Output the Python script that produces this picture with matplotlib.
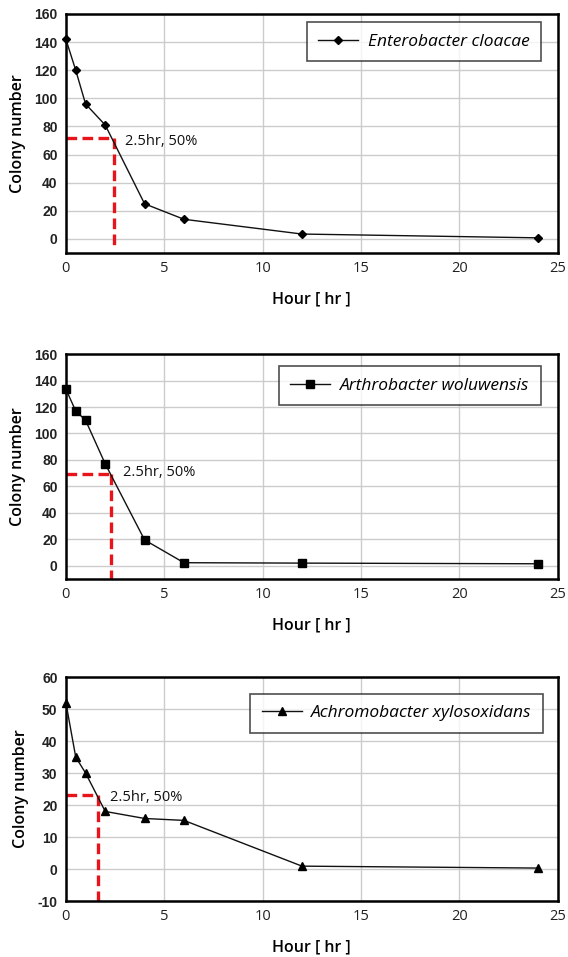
import matplotlib
matplotlib.use("Agg")
import matplotlib.pyplot as plt

plt.rcParams["axes.unicode_minus"] = False

# Données
hours = [0, 0.5, 1, 2, 4, 6, 12, 24]
ent_counts = [142, 120, 96, 81, 25, 14, 3.5, 0.8]
art_counts = [133.5, 117, 110, 77, 19.5, 2.3, 2, 1.5]
ach_counts = [52, 35, 30, 18, 15.8, 15.2, 0.9, 0.3]

species = ["Enterobacter cloacae", "Arthrobacter woluwensis", "Achromobacter xylosoxidans"]
markers = ["D", "s", "^"]
marker_sizes = [4.5, 5.5, 5.5]

# point à 50 % (heure, nombre de colonies)
half_hour = [2.42, 2.3, 1.62]
half_count = [72, 69.6, 23.1]

y_lims = [(-10, 160), (-10, 160), (-10, 60)]
y_steps = [20, 20, 10]

# positions des axes (fraction figure) et des légendes
axes_boxes = [
    [0.116, 0.7356, 0.866, 0.2498],
    [0.116, 0.395, 0.866, 0.235],
    [0.116, 0.0585, 0.866, 0.234],
]
legend_anchor = [(0.965, 0.965), (0.965, 0.945), (0.97, 0.925)]

fig = plt.figure(figsize=(5.68, 9.57), dpi=100)
fig.patch.set_facecolor("white")

series = [ent_counts, art_counts, ach_counts]
for i, box in enumerate(axes_boxes):
    ax = fig.add_axes(box)
    y0, y1 = y_lims[i]
    ax.set_xlim(0, 25)
    ax.set_ylim(y0, y1)
    ax.set_xticks(range(0, 26, 5))
    ax.set_yticks(range(y0 if i == 2 else 0, y1 + 1, y_steps[i]))
    ax.grid(True, color="#cccccc", linewidth=1.0)
    ax.set_axisbelow(True)
    for sp in ax.spines.values():
        sp.set_linewidth(1.8)
        sp.set_color("black")
    ax.tick_params(length=0, pad=6)
    for lab in ax.get_yticklabels():
        lab.set_fontfamily("Liberation Sans")
        lab.set_fontweight("bold")
        lab.set_fontsize(10)
        lab.set_color("#222222")
    for lab in ax.get_xticklabels():
        lab.set_fontfamily("Open Sans")
        lab.set_fontsize(10.5)
        lab.set_color("#222222")

    # repère 50 %
    ax.plot([0, half_hour[i]], [half_count[i], half_count[i]],
            color="#e8141c", linestyle=(0, (3.2, 1.6)), linewidth=2.4, zorder=2)
    ax.plot([half_hour[i], half_hour[i]], [half_count[i], y0 + (3 if i == 0 else 0)],
            color="#e8141c", linestyle=(0, (3.2, 1.6)), linewidth=2.4, zorder=2)

    ax.plot(hours, series[i], color="#111111", linewidth=1.0,
            marker=markers[i], markersize=marker_sizes[i],
            markerfacecolor="black", markeredgecolor="black",
            label=species[i], zorder=3, clip_on=False)

    ax.text(half_hour[i] + 0.6, half_count[i] - (3 if i == 0 else (-1 if i == 1 else 0.8)),
            "2.5hr, 50%", fontsize=10.5, family="Open Sans",
            va="center", ha="left", color="#111111")

    leg = ax.legend(loc="upper right", bbox_to_anchor=legend_anchor[i],
                    frameon=True, fancybox=False, handlelength=2.3,
                    borderpad=0.65, handletextpad=0.55, borderaxespad=0,
                    prop={"family": "Open Sans", "style": "italic", "size": 12.5})
    leg.get_frame().set_edgecolor("#222222")
    leg.get_frame().set_linewidth(1.2)

    ax.set_ylabel("Colony number", fontsize=11.5, family="Open Sans",
                  fontweight="semibold", labelpad=6)
    ax.set_xlabel("Hour [ hr ]", fontsize=11.5, family="Open Sans",
                  fontweight="semibold", labelpad=11)

fig.savefig("out.png", dpi=100)
